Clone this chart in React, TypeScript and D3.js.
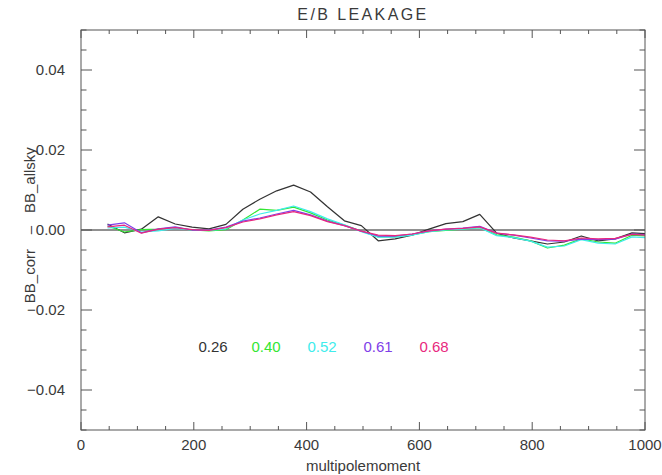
import React from "react";
import * as d3 from "d3";

const multipoles = [47, 77, 107, 137, 167, 197, 227, 257, 287, 317, 347, 377, 407, 437, 467, 497, 527, 557, 587, 617, 647, 677, 707, 737, 767, 797, 827, 857, 887, 917, 947, 977, 1007];

const s026 = [0.0015, -0.0007, 0.0002, 0.0033, 0.0015, 0.0007, 0.0003, 0.0014, 0.0052, 0.0077, 0.0098, 0.0112, 0.0095, 0.0058, 0.0023, 0.0011, -0.0027, -0.0022, -0.0013, 0.0002, 0.0016, 0.0021, 0.0039, -0.0008, -0.0020, -0.0027, -0.0035, -0.0030, -0.0015, -0.0027, -0.0022, -0.0007, -0.0010];
const s040 = [0.0010, -0.0005, 0.0001, 0.0002, 0.0006, 0.0000, -0.0002, 0.0001, 0.0025, 0.0052, 0.0049, 0.0057, 0.0043, 0.0025, 0.0012, -0.0003, -0.0017, -0.0017, -0.0012, -0.0004, -0.0001, 0.0002, 0.0006, -0.0012, -0.0018, -0.0027, -0.0045, -0.0038, -0.0022, -0.0030, -0.0033, -0.0013, -0.0015];
const s052 = [0.0005, 0.0007, -0.0005, -0.0002, 0.0004, 0.0000, -0.0001, 0.0003, 0.0025, 0.0040, 0.0049, 0.0060, 0.0046, 0.0028, 0.0013, -0.0004, -0.0018, -0.0018, -0.0013, -0.0004, 0.0000, 0.0002, 0.0006, -0.0014, -0.0019, -0.0028, -0.0043, -0.0040, -0.0024, -0.0033, -0.0035, -0.0017, -0.0020];
const s061 = [0.0012, 0.0018, -0.0007, 0.0003, 0.0008, 0.0000, 0.0000, 0.0007, 0.0022, 0.0030, 0.0040, 0.0049, 0.0038, 0.0022, 0.0011, -0.0003, -0.0015, -0.0015, -0.0010, -0.0002, 0.0002, 0.0005, 0.0009, -0.0008, -0.0013, -0.0020, -0.0027, -0.0028, -0.0023, -0.0024, -0.0023, -0.0010, -0.0012];
const s068 = [0.0008, 0.0012, -0.0008, 0.0002, 0.0006, 0.0001, -0.0001, 0.0006, 0.0020, 0.0028, 0.0038, 0.0046, 0.0036, 0.0021, 0.0011, -0.0003, -0.0013, -0.0014, -0.0010, -0.0002, 0.0002, 0.0004, 0.0008, -0.0008, -0.0012, -0.0018, -0.0025, -0.0027, -0.0020, -0.0022, -0.0021, -0.0011, -0.0013];

const seriesLabels = ["0.26", "0.40", "0.52", "0.61", "0.68"];
const seriesColors = ["#333333", "#33e633", "#40ecec", "#8040e8", "#e8287e"];
const seriesData = [s026, s040, s052, s061, s068];

const xTicks = [0, 200, 400, 600, 800, 1000];
const yTicks = [-0.04, -0.02, 0.0, 0.02, 0.04];

export default function App() {
  const W = 662, H = 475;
  const left = 81, right = 645, top = 30, bottom = 430;
  const x = d3.scaleLinear().domain([0, 1000]).range([left, right]);
  const y = d3.scaleLinear().domain([-0.05, 0.05]).range([bottom, top]);
  const line = d3.line<number>().x((_, i) => x(multipoles[i])).y((d) => y(d));
  const axisColor = "#555";
  const textColor = "#3a3a3a";
  const font = "'Liberation Sans', Arial, sans-serif";
  const xMinor = d3.range(0, 1001, 50).filter((v) => v % 200 !== 0);
  const yMinor = d3.range(-50, 51, 5).filter((v) => v % 20 !== 0).map((v) => v / 1000);
  const xMajLen = 8, xMinLen = 4, yMajLen = 11, yMinLen = 5.5;
  const legendX = [213, 266, 322, 378, 434];
  const yc = y(0);

  return (
    <div style={{ position: "absolute", left: 0, top: 0 }}>
      <svg width={W} height={H} style={{ display: "block", background: "#fff" }}>
        <defs>
          <clipPath id="plotclip">
            <rect x={left} y={top} width={right - left} height={bottom - top} />
          </clipPath>
        </defs>
        <text x={(left + right) / 2} y={20} textAnchor="middle" fontFamily={font} fontSize={16} letterSpacing={2.4} fill={textColor}>
          E/B LEAKAGE
        </text>
        {/* zero line */}
        <line x1={x(0)} x2={x(1000)} y1={y(0)} y2={y(0)} stroke="#222" strokeWidth={1} />
        {/* series */}
        <g clipPath="url(#plotclip)">
          {seriesData.map((s, i) => (
            <path key={i} d={line(s) || ""} fill="none" stroke={seriesColors[i]} strokeWidth={1.25} strokeLinejoin="round" />
          ))}
        </g>
        {/* frame */}
        <rect x={left} y={top} width={right - left} height={bottom - top} fill="none" stroke={axisColor} strokeWidth={1} />
        {/* x ticks */}
        {xTicks.map((t) => (
          <g key={"xt" + t}>
            <line x1={x(t)} x2={x(t)} y1={bottom} y2={bottom - xMajLen} stroke={axisColor} />
            <line x1={x(t)} x2={x(t)} y1={top} y2={top + xMajLen} stroke={axisColor} />
            <text x={x(t)} y={450} textAnchor="middle" fontFamily={font} fontSize={15} fill={textColor}>
              {String(t)}
            </text>
          </g>
        ))}
        {xMinor.map((t) => (
          <g key={"xm" + t}>
            <line x1={x(t)} x2={x(t)} y1={bottom} y2={bottom - xMinLen} stroke={axisColor} />
            <line x1={x(t)} x2={x(t)} y1={top} y2={top + xMinLen} stroke={axisColor} />
          </g>
        ))}
        {/* y ticks */}
        {yTicks.map((t) => (
          <g key={"yt" + t}>
            <line x1={left} x2={left + yMajLen} y1={y(t)} y2={y(t)} stroke={axisColor} />
            <line x1={right} x2={right - yMajLen} y1={y(t)} y2={y(t)} stroke={axisColor} />
            <text x={65} y={y(t) + 5} textAnchor="end" fontFamily={font} fontSize={15} fill={textColor}>
              {(t < 0 ? "\u2212" : "") + Math.abs(t).toFixed(2)}
            </text>
          </g>
        ))}
        {yMinor.map((t) => (
          <g key={"ym" + t}>
            <line x1={left} x2={left + yMinLen} y1={y(t)} y2={y(t)} stroke={axisColor} />
            <line x1={right} x2={right - yMinLen} y1={y(t)} y2={y(t)} stroke={axisColor} />
          </g>
        ))}
        {/* axis titles */}
        <text x={(left + right) / 2} y={471} textAnchor="middle" fontFamily={font} fontSize={15} fill={textColor}>
          multipolemoment
        </text>
        <g transform={`translate(35, ${yc}) rotate(-90)`}>
          <text x={-19} y={0} textAnchor="end" fontFamily={font} fontSize={15} fill={textColor}>BB_corr</text>
          <text x={0} y={0} textAnchor="middle" fontFamily={font} fontSize={15} fill={textColor}>{"\u2013"}</text>
          <text x={17} y={0} textAnchor="start" fontFamily={font} fontSize={15} fill={textColor}>BB_allsky</text>
        </g>
        {/* legend labels */}
        {seriesLabels.map((lab, i) => (
          <text key={lab} x={legendX[i]} y={352} textAnchor="middle" fontFamily={font} fontSize={15} fill={seriesColors[i]}>
            {lab}
          </text>
        ))}
      </svg>
    </div>
  );
}
